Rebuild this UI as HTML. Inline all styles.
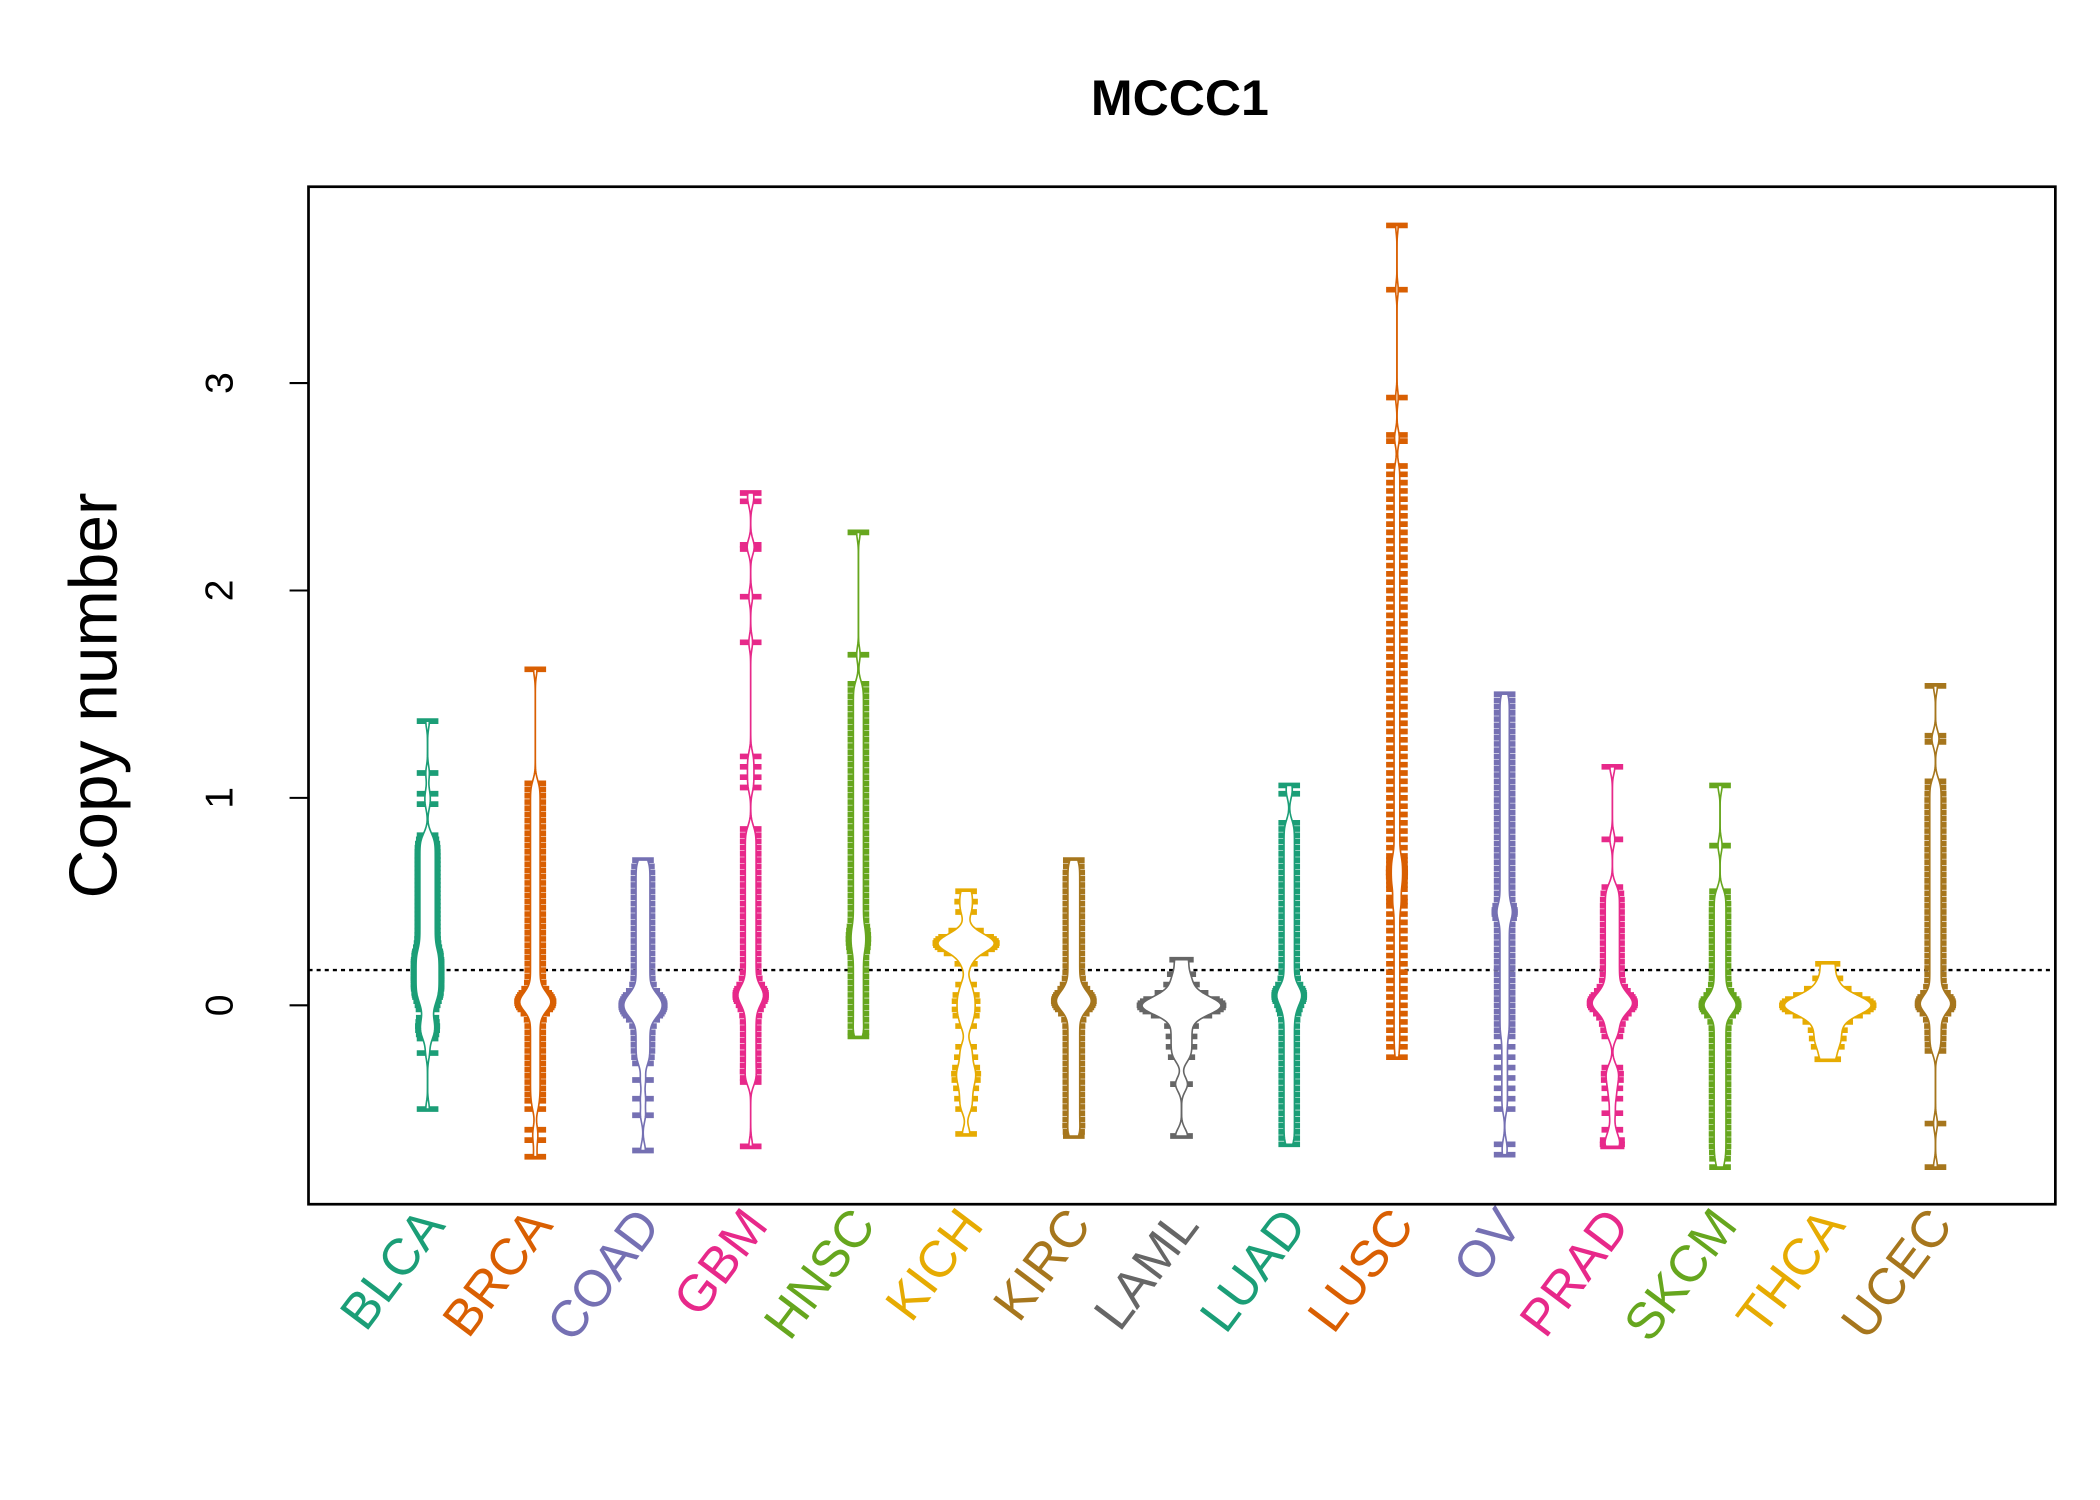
<!DOCTYPE html>
<html><head><meta charset="utf-8"><style>html,body{margin:0;padding:0;background:#fff}svg{display:block}</style></head>
<body>
<svg id="chart" width="2100" height="1500" viewBox="0 0 1552 1108.6" preserveAspectRatio="none" xmlns="http://www.w3.org/2000/svg" font-family="Liberation Sans, sans-serif">
<text x="872" y="85" text-anchor="middle" font-size="37" font-weight="bold">MCCC1</text>
<text transform="translate(86,514) rotate(-90)" text-anchor="middle" font-size="50">Copy number</text>
<g id="plot"></g>
<rect x="228" y="138" width="1291" height="752" fill="none" stroke="#000" stroke-width="2"/>
</svg>
<script>
const categories=["BLCA","BRCA","COAD","GBM","HNSC","KICH","KIRC","LAML","LUAD","LUSC","OV","PRAD","SKCM","THCA","UCEC"];
const blca=[1.37,1.12,1.02,0.97,0.82,0.8,0.78,0.76,0.74,0.72,0.7,0.68,0.66,0.64,0.62,0.6,0.58,0.56,0.54,0.52,0.5,0.48,0.46,0.44,0.42,0.4,0.38,0.36,0.34,0.32,0.3,0.28,0.26,0.25,0.24,0.22,0.21,0.2,0.18,0.17,0.16,0.14,0.13,0.12,0.1,0.09,0.08,0.06,0.05,0.04,0.02,0.0,-0.02,-0.06,-0.08,-0.1,-0.12,-0.14,-0.16,-0.23,-0.5];
const brca=[1.62,1.07,1.04,1.01,0.98,0.95,0.92,0.89,0.86,0.83,0.8,0.77,0.74,0.71,0.68,0.65,0.62,0.59,0.56,0.53,0.5,0.47,0.44,0.41,0.38,0.35,0.32,0.29,0.26,0.23,0.2,0.17,0.14,0.11,0.08,0.06,0.05,0.04,0.03,0.02,0.02,0.01,0.0,0.0,-0.01,-0.02,-0.04,-0.07,-0.1,-0.13,-0.16,-0.19,-0.22,-0.25,-0.28,-0.31,-0.34,-0.37,-0.4,-0.43,-0.46,-0.5,-0.6,-0.65,-0.73];
const coad=[0.7,0.67,0.64,0.61,0.58,0.55,0.52,0.49,0.46,0.43,0.4,0.37,0.34,0.31,0.28,0.25,0.22,0.19,0.16,0.13,0.1,0.07,0.05,0.04,0.03,0.02,0.01,0.0,-0.01,-0.02,-0.03,-0.04,-0.05,-0.07,-0.1,-0.13,-0.16,-0.19,-0.22,-0.25,-0.28,-0.36,-0.45,-0.53,-0.7];
const gbm=[2.47,2.43,2.22,2.2,1.97,1.75,1.2,1.15,1.1,1.05,0.85,0.82,0.79,0.76,0.73,0.7,0.67,0.64,0.61,0.58,0.55,0.52,0.49,0.46,0.43,0.4,0.37,0.34,0.31,0.28,0.25,0.22,0.19,0.16,0.13,0.1,0.08,0.07,0.06,0.05,0.04,0.03,0.02,0.0,-0.02,-0.05,-0.08,-0.11,-0.14,-0.17,-0.2,-0.23,-0.26,-0.29,-0.32,-0.35,-0.37,-0.68];
const hnsc=[2.28,1.69,1.55,1.52,1.49,1.46,1.43,1.4,1.37,1.34,1.31,1.28,1.25,1.22,1.19,1.16,1.13,1.1,1.07,1.04,1.01,0.98,0.95,0.92,0.89,0.86,0.83,0.8,0.77,0.74,0.71,0.68,0.65,0.62,0.59,0.56,0.53,0.5,0.47,0.44,0.41,0.38,0.36,0.34,0.32,0.3,0.28,0.26,0.23,0.2,0.17,0.14,0.11,0.08,0.05,0.02,-0.01,-0.04,-0.07,-0.1,-0.13,-0.15];
const kich=[0.55,0.5,0.45,0.36,0.33,0.32,0.31,0.3,0.3,0.29,0.28,0.27,0.25,0.2,0.1,0.05,0.02,-0.02,-0.05,-0.1,-0.2,-0.25,-0.3,-0.33,-0.36,-0.4,-0.45,-0.5,-0.62];
const kirc=[0.7,0.67,0.64,0.61,0.58,0.55,0.52,0.49,0.46,0.43,0.4,0.37,0.34,0.31,0.28,0.25,0.22,0.19,0.16,0.13,0.1,0.08,0.06,0.05,0.04,0.03,0.02,0.02,0.01,0.0,-0.01,-0.02,-0.04,-0.07,-0.1,-0.13,-0.16,-0.19,-0.22,-0.25,-0.28,-0.31,-0.34,-0.37,-0.4,-0.43,-0.46,-0.49,-0.52,-0.55,-0.58,-0.61,-0.63];
const laml=[0.22,0.15,0.1,0.06,0.03,0.02,0.01,0.0,-0.01,-0.02,-0.03,-0.05,-0.1,-0.15,-0.2,-0.25,-0.38,-0.63];
const luad=[1.06,1.02,0.88,0.85,0.82,0.79,0.76,0.73,0.7,0.67,0.64,0.61,0.58,0.55,0.52,0.49,0.46,0.43,0.4,0.37,0.34,0.31,0.28,0.25,0.22,0.19,0.16,0.13,0.1,0.08,0.07,0.06,0.05,0.04,0.03,0.02,0.0,-0.02,-0.04,-0.07,-0.1,-0.13,-0.16,-0.19,-0.22,-0.25,-0.28,-0.31,-0.34,-0.37,-0.4,-0.43,-0.46,-0.49,-0.52,-0.55,-0.58,-0.61,-0.64,-0.67];
const lusc=[3.76,3.45,2.93,2.75,2.72,2.6,2.56,2.52,2.48,2.44,2.4,2.36,2.32,2.28,2.24,2.2,2.16,2.12,2.08,2.04,2.0,1.96,1.92,1.88,1.84,1.8,1.76,1.72,1.68,1.64,1.6,1.56,1.52,1.48,1.44,1.4,1.36,1.32,1.28,1.24,1.2,1.16,1.12,1.08,1.04,1.0,0.96,0.92,0.88,0.84,0.8,0.76,0.72,0.7,0.68,0.66,0.64,0.62,0.6,0.58,0.56,0.52,0.5,0.48,0.44,0.4,0.36,0.32,0.28,0.24,0.2,0.16,0.12,0.08,0.04,0.0,-0.04,-0.08,-0.12,-0.16,-0.2,-0.25];
const ov=[1.5,1.47,1.44,1.41,1.38,1.35,1.32,1.29,1.26,1.23,1.2,1.17,1.14,1.11,1.08,1.05,1.02,0.99,0.96,0.93,0.9,0.87,0.84,0.81,0.78,0.75,0.72,0.69,0.66,0.63,0.6,0.57,0.54,0.51,0.48,0.46,0.45,0.44,0.42,0.39,0.36,0.33,0.3,0.27,0.24,0.21,0.18,0.15,0.12,0.09,0.06,0.03,0.0,-0.03,-0.06,-0.09,-0.12,-0.15,-0.2,-0.25,-0.3,-0.35,-0.4,-0.45,-0.5,-0.67,-0.72];
const prad=[1.15,0.8,0.57,0.54,0.51,0.48,0.45,0.42,0.39,0.36,0.33,0.3,0.27,0.24,0.21,0.18,0.15,0.12,0.09,0.07,0.05,0.04,0.03,0.02,0.01,0.0,0.0,-0.01,-0.02,-0.04,-0.06,-0.09,-0.12,-0.15,-0.3,-0.33,-0.36,-0.4,-0.45,-0.52,-0.6,-0.65,-0.67,-0.68];
const skcm=[1.06,0.77,0.55,0.52,0.49,0.46,0.43,0.4,0.37,0.34,0.31,0.28,0.25,0.22,0.19,0.16,0.13,0.1,0.07,0.05,0.03,0.02,0.01,0.0,0.0,-0.01,-0.02,-0.03,-0.05,-0.08,-0.11,-0.14,-0.17,-0.2,-0.23,-0.26,-0.29,-0.32,-0.35,-0.38,-0.41,-0.44,-0.47,-0.5,-0.53,-0.56,-0.59,-0.62,-0.65,-0.68,-0.71,-0.74,-0.78];
const thca=[0.2,0.13,0.08,0.05,0.03,0.02,0.01,0.0,-0.01,-0.02,-0.03,-0.05,-0.08,-0.12,-0.16,-0.2,-0.26];
const ucec=[1.54,1.3,1.27,1.08,1.05,1.02,0.99,0.96,0.93,0.9,0.87,0.84,0.81,0.78,0.75,0.72,0.69,0.66,0.63,0.6,0.57,0.54,0.51,0.48,0.45,0.42,0.39,0.36,0.33,0.3,0.27,0.24,0.21,0.18,0.15,0.12,0.09,0.06,0.04,0.03,0.02,0.01,0.0,0.0,-0.01,-0.02,-0.04,-0.07,-0.1,-0.13,-0.16,-0.19,-0.22,-0.57,-0.78];
const seriesValues=[blca,brca,coad,gbm,hnsc,kich,kirc,laml,luad,lusc,ov,prad,skcm,thca,ucec];
const yTicks=[0,1,2,3];
const refLine=0.17;

const palette=["#1B9E77","#D95F02","#7570B3","#E7298A","#66A61E","#E6AB02","#A6761D","#666666"];
const NS="http://www.w3.org/2000/svg";
const g=document.getElementById('plot');
function xPos(i){return 316+i*79.6;}
function yPos(v){return 743-v*153.3;}
function mk(tag,attrs){const e=document.createElementNS(NS,tag);for(const k in attrs)e.setAttribute(k,attrs[k]);g.appendChild(e);return e;}

yTicks.forEach(t=>{
  const tk=mk('line',{x1:214,x2:228,y1:yPos(t),y2:yPos(t),stroke:'#000','stroke-width':1.5});
  
  
  const lb=mk('text',{transform:`translate(172,${yPos(t)}) rotate(-90)`,'text-anchor':'middle','font-size':29});
  lb.textContent=t;
  
  
});
const yl=mk('line',{x1:228,x2:228,y1:yPos(yTicks[0]),y2:yPos(yTicks[yTicks.length-1]),stroke:'#000','stroke-width':1.5});



const BW=0.035;
function kde(vals){
  const n=vals.length;
  return v=>vals.reduce((a,x)=>a+Math.exp(-0.5*((v-x)/BW)**2),0)/(n*BW*Math.sqrt(2*Math.PI));
}
const dens=seriesValues.map(kde);
let maxD=0;
seriesValues.forEach((vals,i)=>{const lo=Math.min(...vals),hi=Math.max(...vals);for(let k=0;k<=300;k++){maxD=Math.max(maxD,dens[i](lo+(hi-lo)*k/300));}});
const K=32/maxD;

const rl=mk('line',{x1:228,x2:1519,y1:yPos(refLine),y2:yPos(refLine),stroke:'#000','stroke-width':1.8,'stroke-dasharray':'3,3'});



seriesValues.forEach((vals,i)=>{
  const c=palette[i%8],cx=xPos(i),lo=Math.min(...vals),hi=Math.max(...vals);
  const grp=document.createElementNS(NS,'g');g.appendChild(grp);
  
  
  const add=(tag,a)=>{const e=document.createElementNS(NS,tag);for(const k in a)e.setAttribute(k,a[k]);grp.appendChild(e);return e;};
  add('line',{x1:cx,x2:cx,y1:yPos(hi),y2:yPos(lo),stroke:c,'stroke-width':1.2});
  vals.forEach(v=>{
    const hw=Math.max(8,dens[i](v)*K+4);
    const d=add('line',{x1:cx-hw,x2:cx+hw,y1:yPos(v),y2:yPos(v),stroke:c,'stroke-width':4.2});
    
    
  });
  let L=[],R=[];
  for(let k=0;k<=240;k++){const v=lo+(hi-lo)*k/240;const w=dens[i](v)*K;L.push([cx-w,yPos(v)]);R.push([cx+w,yPos(v)]);}
  const pts=L.concat(R.reverse()).map(p=>p[0].toFixed(2)+','+p[1].toFixed(2)).join(' ');
  const b=add('polygon',{points:pts,fill:'#fff',stroke:c,'stroke-width':1.2});
  
  
  const lb=mk('text',{transform:`translate(${cx+14},906) rotate(-53)`,'text-anchor':'end','font-size':38,fill:c});
  lb.textContent=categories[i];
  
  
});
</script>
</body></html>
